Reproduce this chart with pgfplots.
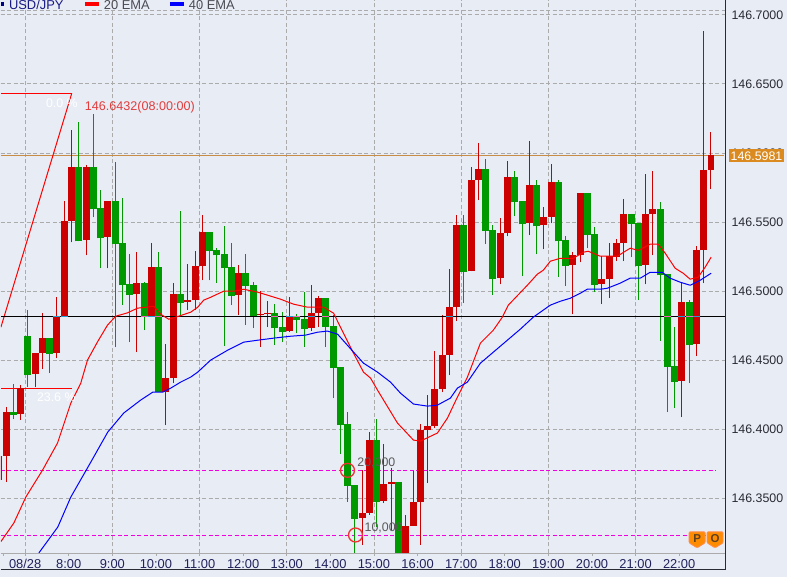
\documentclass[border=0pt]{standalone}
\usepackage{fontspec}
\setmainfont{Liberation Sans}
\usepackage{pgfplots}
\usepackage{pgfplotstable}
\pgfplotsset{compat=1.18}

\definecolor{bg}{HTML}{E8ECF5}
\definecolor{grd}{HTML}{ABABAB}
\definecolor{up}{HTML}{CC0000}
\definecolor{dn}{HTML}{009900}
\definecolor{ora}{HTML}{C88C46}
\definecolor{tag}{HTML}{DA8A1E}
\definecolor{fr}{HTML}{2A2A33}
\definecolor{mg}{HTML}{F000E0}
\definecolor{ring}{HTML}{EE3333}
\definecolor{lbl}{HTML}{E23C3C}

% x = bar number (8:00 bar is 0), top/bot = body, hi/lo = wick
\pgfplotstableread{
x top bot hi lo
-9 146.3806 146.3632 146.3806 146.3618
-8 146.4124 146.3806 146.4160 146.3618
-6 146.4297 146.4109 146.4319 146.4066
-4 146.4550 146.4399 146.4550 146.4305
-3 146.4659 146.4550 146.4840 146.4435
-1 146.4811 146.4550 146.4955 146.4514
0 146.5505 146.4811 146.5650 146.4811
1 146.5895 146.5505 146.6163 146.5353
3 146.5895 146.5368 146.5910 146.5259
6 146.5650 146.5389 146.5650 146.5165
10 146.5057 146.4977 146.5281 146.4558
12 146.5172 146.4818 146.5346 146.4818
14 146.4370 146.4268 146.4616 146.4030
15 146.4977 146.4370 146.5057 146.4334
17 146.4934 146.4919 146.5194 146.4861
18 146.5180 146.4934 146.5288 146.4861
19 146.5425 146.5180 146.5548 146.5078
24 146.5129 146.4970 146.5187 146.4825
27 146.4832 146.4825 146.4999 146.4594
28 146.4840 146.4832 146.4926 146.4738
31 146.4811 146.4710 146.4955 146.4702
34 146.4840 146.4731 146.5042 146.4710
35 146.4948 146.4840 146.4963 146.4738
41 146.3393 146.3357 146.3704 146.3162
42 146.3921 146.3393 146.3979 146.3379
44 146.3603 146.3480 146.3893 146.3466
45 146.3618 146.3603 146.3719 146.3271
47 146.3300 146.3054 146.3379 146.3054
48 146.3473 146.3300 146.3697 146.3300
49 146.3994 146.3473 146.4037 146.3162
50 146.4023 146.3994 146.4247 146.3610
51 146.4290 146.4023 146.4565 146.4008
52 146.4536 146.4290 146.4825 146.4268
53 146.4883 146.4536 146.5158 146.4391
54 146.5476 146.4883 146.5548 146.4782
56 146.5801 146.5143 146.5895 146.5143
57 146.5881 146.5801 146.6069 146.5657
60 146.5418 146.5093 146.5527 146.5049
61 146.5823 146.5418 146.5939 146.5396
64 146.5765 146.5490 146.6083 146.5404
66 146.5534 146.5476 146.5606 146.5302
67 146.5787 146.5534 146.5917 146.5490
70 146.5259 146.5187 146.5281 146.4832
71 146.5707 146.5259 146.5707 146.5208
74 146.5086 146.5049 146.5252 146.4905
75 146.5252 146.5086 146.5346 146.4948
76 146.5346 146.5245 146.5375 146.5216
77 146.5556 146.5346 146.5664 146.5216
80 146.5556 146.5187 146.5845 146.5049
81 146.5592 146.5556 146.5867 146.5259
85 146.4919 146.4348 146.5057 146.4088
87 146.5295 146.4616 146.5324 146.4529
88 146.5874 146.5295 146.6886 146.5057
89 146.5982 146.5874 146.6149 146.5736
}\upbars

\pgfplotstableread{
x top bot hi lo
-7 146.4124 146.4102 146.4326 146.4073
-5 146.4673 146.4391 146.4861 146.4305
-2 146.4659 146.4543 146.4659 146.4406
2 146.5895 146.5360 146.6221 146.5360
4 146.5895 146.5592 146.6279 146.5534
5 146.5599 146.5382 146.5729 146.5165
7 146.5650 146.5339 146.5932 146.4594
8 146.5346 146.5042 146.5671 146.4898
9 146.5049 146.4970 146.5266 146.4630
11 146.5057 146.4818 146.5064 146.4717
13 146.5172 146.4268 146.5281 146.4268
16 146.4977 146.4912 146.5577 146.4818
20 146.5425 146.5288 146.5425 146.5078
21 146.5295 146.5259 146.5310 146.5057
22 146.5266 146.5165 146.5469 146.4601
23 146.5172 146.4963 146.5346 146.4898
25 146.5129 146.5035 146.5266 146.4753
26 146.5042 146.4811 146.5064 146.4731
29 146.4840 146.4731 146.4905 146.4608
30 146.4738 146.4702 146.4847 146.4630
32 146.4811 146.4789 146.4832 146.4695
33 146.4796 146.4724 146.4992 146.4594
36 146.4948 146.4738 146.4948 146.4594
37 146.4746 146.4442 146.4825 146.4225
38 146.4449 146.4030 146.4449 146.3820
39 146.4037 146.3589 146.4124 146.3473
40 146.3596 146.3350 146.3596 146.3104
43 146.3921 146.3473 146.4073 146.3292
46 146.3618 146.3054 146.3618 146.3054
55 146.5476 146.5136 146.5548 146.4912
58 146.5881 146.5433 146.5953 146.5339
59 146.5440 146.5086 146.5476 146.4970
62 146.5823 146.5642 146.5867 146.5541
63 146.5650 146.5483 146.5650 146.5107
65 146.5765 146.5469 146.5801 146.5266
68 146.5787 146.5360 146.5801 146.5100
69 146.5368 146.5180 146.5396 146.5035
72 146.5707 146.5404 146.5707 146.5310
73 146.5411 146.5042 146.5462 146.4992
78 146.5556 146.5483 146.5556 146.5245
79 146.5490 146.5180 146.5490 146.4934
82 146.5592 146.5114 146.5642 146.4637
83 146.5122 146.4449 146.5122 146.4124
84 146.4456 146.4341 146.4738 146.4153
86 146.4919 146.4608 146.4934 146.4334
}\dnbars

\begin{document}
\begin{tikzpicture}
\begin{scope}[x=1pt,y=1pt]
\useasboundingbox (0,0) rectangle (787,577);
\fill[bg] (-5,-5) rectangle (792,582);
\end{scope}
\begin{axis}[
  at={(0pt,24pt)}, anchor=south west,
  width=725.3pt, height=553pt, scale only axis,
  xmin=-8.715, xmax=90.98,
  ymin=146.31046, ymax=146.71034,
  axis x line=bottom, axis y line=right,
  x axis line style={draw=grd,-},
  y axis line style={draw=fr,line width=1pt,-},
  font=\fontsize{12.4}{14}\selectfont,
  xtick={-8.38,-5.38,0.62,6.62,12.62,18.62,24.62,30.62,36.62,42.62,48.62,54.62,60.62,66.62,72.62,78.62,84.62},
  xticklabels={{},08/28,8:00,9:00,10:00,11:00,12:00,13:00,14:00,15:00,16:00,17:00,18:00,19:00,20:00,21:00,22:00},
  extra x ticks={-5.38,6.62,18.62,30.62,42.62,54.62,66.62,78.62},
  extra x tick labels={},
  extra x tick style={xmajorgrids=true},
  ytick={146.35,146.40,146.45,146.50,146.55,146.60,146.65,146.70,146.7033},
  yticklabels={146.3500,146.4000,146.4500,146.5000,146.5500,146.6000,146.6500,146.7000,{}},
  ymajorgrids=true,
  grid style={grd,dash pattern=on 4pt off 2.5pt,line width=0.8pt},
  x tick style={draw=grd,line width=0.8pt},
  y tick style={draw=none},
  tick align=outside,
  major tick length=3pt,
  x tick label style={text=fr!80!blue,text height=9.5pt,text depth=0pt,yshift=0.5pt,font=\fontsize{12.9}{14}\selectfont},
  y tick label style={text=fr,inner xsep=0pt,xshift=3pt},
]
% price levels
\addplot[ora,line width=1pt] coordinates {(-8.715,146.5981)(90.8,146.5981)};
\addplot[mg,line width=1pt,dash pattern=on 4pt off 2.5pt] coordinates {(-8.715,146.3702)(89.6,146.3702)};
\addplot[mg,line width=1pt,dash pattern=on 4pt off 2.5pt] coordinates {(-8.715,146.3230)(89.6,146.3230)};
% fibo
\addplot[red,line width=1pt] coordinates {(-8.715,146.6432)(1.04,146.6432)};
\addplot[red,line width=1pt] coordinates {(-8.715,146.4295)(1.04,146.4295)};
\addplot[red,line width=1pt] coordinates {(-8.715,146.4738)(1.04,146.6432)};
% wicks
\addplot[draw=none,mark=none,error bars/.cd,y dir=plus,y explicit,error mark=none,
  error bar style={up,line width=1pt}]
  table[x=x,y=lo,y error plus expr=\thisrow{hi}-\thisrow{lo}] {\upbars};
\addplot[draw=none,mark=none,error bars/.cd,y dir=plus,y explicit,error mark=none,
  error bar style={dn,line width=1pt}]
  table[x=x,y=lo,y error plus expr=\thisrow{hi}-\thisrow{lo}] {\dnbars};
% bodies
\addplot[draw=none,mark=none,error bars/.cd,y dir=plus,y explicit,error mark=none,
  error bar style={up,line width=7pt}]
  table[x=x,y=bot,y error plus expr=\thisrow{top}-\thisrow{bot}] {\upbars};
\addplot[draw=none,mark=none,error bars/.cd,y dir=plus,y explicit,error mark=none,
  error bar style={dn,line width=7pt}]
  table[x=x,y=bot,y error plus expr=\thisrow{top}-\thisrow{bot}] {\dnbars};
% black level, inverted where it crosses a body
\addplot[black,line width=1pt] coordinates {(-8.715,146.4816)(90.98,146.4816)};
\addplot[draw=none,mark=none,error bars/.cd,x dir=both,x fixed=0.48,error mark=none,
  error bar style={cyan!85!black,line width=1pt}]
  coordinates {(-1,146.4816)(0,146.4816)(12,146.4816)(31,146.4816)(34,146.4816)(53,146.4816)(85,146.4816)(87,146.4816)};
\addplot[draw=none,mark=none,error bars/.cd,x dir=both,x fixed=0.48,error mark=none,
  error bar style={magenta!60!white,line width=1pt}]
  coordinates {(11,146.4816)(13,146.4816)(29,146.4816)(32,146.4816)(36,146.4816)(83,146.4816)(86,146.4816)};
% 20 EMA
\addplot[red,line width=1pt] coordinates {
(-8.72,146.3186)(-6.93,146.3321)(-5.28,146.3509)(-2.98,146.3704)(-0.92,146.3900)(0.91,146.4189)
(2.28,146.4334)(3.20,146.4500)(4.58,146.4632)(5.95,146.4753)(7.09,146.4818)(8.70,146.4842)
(10.08,146.4876)(11.45,146.4885)(12.32,146.4890)(13.28,146.4832)(14.38,146.4796)(15.75,146.4818)
(17.40,146.4847)(18.37,146.4883)(19.19,146.4934)(20.15,146.4955)(21.94,146.4999)(23.31,146.4999)
(24.69,146.5013)(26.61,146.4992)(27.99,146.4970)(29.77,146.4941)(31.56,146.4905)(33.49,146.4883)
(35.68,146.4883)(37.06,146.4840)(38.02,146.4738)(39.81,146.4550)(41.18,146.4413)(42.15,146.4370)
(43.11,146.4283)(45.86,146.4044)(48.06,146.3921)(49.02,146.3914)(51.35,146.3972)(52.73,146.4080)
(54.10,146.4232)(55.48,146.4377)(57.27,146.4623)(59.05,146.4717)(60.29,146.4811)(61.11,146.4898)
(63.73,146.5042)(65.10,146.5122)(65.93,146.5151)(66.89,146.5216)(68.26,146.5237)(70.05,146.5237)
(71.42,146.5281)(72.11,146.5288)(73.76,146.5252)(76.10,146.5252)(77.88,146.5310)(78.98,146.5295)
(80.63,146.5339)(81.73,146.5339)(82.70,146.5274)(84.07,146.5165)(85.17,146.5129)(86.13,146.5086)
(87.23,146.5100)(88.19,146.5172)(89.02,146.5245)};
% 40 EMA
\addplot[blue,line width=1pt] coordinates {
(-3.49,146.3104)(-0.88,146.3292)(0.91,146.3509)(3.66,146.3762)(5.99,146.3979)(8.19,146.4117)
(10.53,146.4211)(12.18,146.4268)(13.55,146.4268)(14.65,146.4297)(16.03,146.4341)(17.40,146.4377)
(18.37,146.4413)(20.15,146.4500)(22.49,146.4572)(24.69,146.4630)(26.61,146.4644)(28.81,146.4659)
(31.15,146.4673)(33.21,146.4681)(34.86,146.4702)(36.23,146.4710)(37.61,146.4688)(39.81,146.4558)
(41.18,146.4478)(43.11,146.4413)(44.89,146.4341)(46.27,146.4261)(48.06,146.4182)(49.98,146.4167)
(51.35,146.4174)(53.14,146.4225)(54.10,146.4297)(55.48,146.4341)(57.27,146.4478)(62.76,146.4724)
(64.55,146.4811)(66.89,146.4898)(68.26,146.4926)(69.64,146.4948)(71.01,146.4984)(71.97,146.5013)
(73.76,146.5013)(74.72,146.5020)(76.51,146.5057)(77.88,146.5093)(79.26,146.5093)(80.63,146.5136)
(82.28,146.5136)(83.38,146.5093)(84.76,146.5064)(86.13,146.5042)(87.51,146.5078)(89.02,146.5129)};
% signal rings
\addplot[ring,only marks,mark=o,mark size=7pt,mark options={draw=ring,line width=1.3pt,fill=none,solid}]
  coordinates {(38.98,146.3702)(40.08,146.3234)};
% labels
\node[anchor=west,inner sep=0pt,text=black!65] at (axis cs:40.32,146.3755) {20,000};
\node[anchor=west,inner sep=0pt,text=black!65] at (axis cs:41.32,146.3285) {10,000};
\node[anchor=west,inner sep=0pt,text=white] at (axis cs:-2.53,146.6358) {0.0 \%};
\node[anchor=west,inner sep=0pt,text=white] at (axis cs:-3.77,146.4232) {23.6 \%};
\node[anchor=west,inner sep=0pt,text=lbl,font=\fontsize{12.6}{14}\selectfont] at (axis cs:2.83,146.6330) {146.6432(08:00:00)};
\end{axis}
\begin{scope}[x=1pt,y=1pt,font=\fontsize{12.9}{14}\selectfont]
% frame below and right of the plot
\draw[fr,line width=1pt] (0,7) -- (725.3,7) -- (725.3,24);
% legend row
\fill[blue!50!black] (0,571) rectangle (3,575);
\node[anchor=base west,inner sep=0pt,text=blue!40!fr] at (8,568) {USD/JPY};
\fill[red] (84,571) rectangle (98,575);
\node[anchor=base west,inner sep=0pt,text=fr!85] at (103,568) {20 EMA};
\fill[blue] (169,571) rectangle (183,575);
\node[anchor=base west,inner sep=0pt,text=fr!85] at (188,568) {40 EMA};
% last price tag
\fill[tag] (729,415) rectangle (784,428);
\node[text=white,inner sep=0pt,font=\fontsize{12.4}{14}\selectfont] at (756.5,421.5) {146.5981};
% P and O flags
\foreach \xx/\ll in {689/P,707/O}{
  \filldraw[fill=orange!90!yellow,draw=orange!70!red!70!white,line width=0.8pt,rounded corners=1pt]
    (\xx,45) -- (\xx+16,45) -- (\xx+16,34) -- (\xx+8,29) -- (\xx,34) -- cycle;
  \node[inner sep=0pt,text=brown!50!black,font=\bfseries\fontsize{11.5}{12}\selectfont] at (\xx+8,38.5) {\ll};
}
\end{scope}
\end{tikzpicture}
\end{document}
